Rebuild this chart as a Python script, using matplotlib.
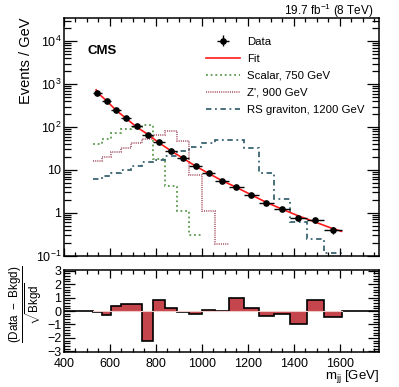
import numpy as np
import matplotlib
matplotlib.use("Agg")
import matplotlib.pyplot as plt
from matplotlib.ticker import FixedLocator, MultipleLocator, NullFormatter, LogLocator

plt.rcParams['font.family'] = ['Liberation Sans', 'DejaVu Sans']
plt.rcParams['mathtext.fontset'] = 'custom'
plt.rcParams['mathtext.rm'] = 'Liberation Sans'
plt.rcParams['mathtext.it'] = 'Liberation Sans:italic'

# bin edges of the dijet mass spectrum [GeV]
edges = [526, 565, 606, 649, 693, 740, 788, 838, 890, 944, 1000, 1058,
         1118, 1181, 1246, 1313, 1383, 1455, 1530, 1607]

# data, events / GeV
data = [628, 395, 251, 163, 104, 65, 44, 28.4, 18.7, 12.2, 8.3, 5.6,
        4.06, 2.67, 1.73, 1.21, 0.77, 0.67, 0.40]
data_err = [4.0, 3.1, 2.4, 1.9, 1.5, 1.16, 0.94, 0.74, 0.59, 0.47, 0.38, 0.31,
            0.25, 0.20, 0.16, 0.13, 0.10, 0.095, 0.072]

# fit curve
fit_m = [540, 545, 585, 627, 671, 716, 764, 813, 864, 917, 972, 1029, 1088,
         1149, 1213, 1279, 1348, 1419, 1492, 1568, 1607]
fit_y = [740, 640, 410, 245, 158, 100, 68, 43, 28.2, 18.8, 12.3, 8.3, 5.6,
         3.95, 2.65, 1.76, 1.22, 0.85, 0.61, 0.43, 0.37]

# signal shapes
scalar_edges = edges[:11]
scalar_vals = [40, 53, 71, 88, 102, 110, 18, 4.3, 1.1, 0.31]
zprime_edges = edges[:13]
zprime_vals = [16, 20, 26, 33, 42, 52, 66, 82, 47, 7.6, 1.1, 0.19]
rsg_edges = edges
rsg_vals = [6.0, 7.1, 8.5, 10.2, 12.2, 15, 17.5, 21.6, 27, 35, 43, 50, 50,
            32, 8.3, 2.1, 0.62, 0.24, 0.115]

# (Data - Bkgd)/sqrt(Bkgd)
resid = [-0.1, -0.3, 0.4, 0.5, 0.55, -2.2, 0.85, 0.2, -0.05, -0.2, 0.05, 0.0,
         0.95, 0.2, -0.35, -0.2, -1.0, 0.8, -0.45]

x_ticks = [400, 600, 800, 1000, 1200, 1400, 1600]

fig = plt.figure(figsize=(3.99, 3.87), dpi=100)
ax = fig.add_axes([0.1604, 0.3393, 0.7895, 0.6142])
axr = fig.add_axes([0.1604, 0.0904, 0.7895, 0.2119])

centers = [(a + b) / 2 for a, b in zip(edges[:-1], edges[1:])]
half_w = [(b - a) / 2 for a, b in zip(edges[:-1], edges[1:])]

ax.stairs(scalar_vals, scalar_edges, baseline=None, color='#5a9a4c',
          lw=1.3, ls=(0, (1, 1.6)), label='Scalar, 750 GeV')
ax.stairs(zprime_vals, zprime_edges, baseline=None, color='#b36a7a',
          lw=1.3, ls=(0, (0.6, 0.6)), label="Z', 900 GeV")
ax.stairs(rsg_vals, rsg_edges, baseline=None, color='#3b6473',
          lw=1.3, ls=(0, (3, 2, 1, 2)), label='RS graviton, 1200 GeV')
ax.plot(fit_m, fit_y, color='#ff1a1a', lw=1.2, label='Fit')
ax.errorbar(centers, data, xerr=half_w, yerr=data_err, fmt='o', color='black',
            ms=3.8, elinewidth=1.0, capsize=0, label='Data')

ax.set_yscale('log')
ax.set_xlim(400, 1770)
ax.set_ylim(0.1, 3.5e4)
ax.yaxis.set_major_locator(FixedLocator([0.1, 1, 10, 100, 1000, 10000]))
ax.set_yticklabels([r'$10^{-1}$', '1', '10', r'$10^{2}$', r'$10^{3}$', r'$10^{4}$'])
ax.yaxis.set_minor_locator(LogLocator(base=10, subs=np.arange(2, 10), numticks=20))
ax.yaxis.set_minor_formatter(NullFormatter())
ax.xaxis.set_major_locator(FixedLocator(x_ticks))
ax.xaxis.set_minor_locator(MultipleLocator(50))
ax.set_xticklabels([])
ax.set_ylabel('Events / GeV', fontsize=10.5, loc='top', labelpad=2)

handles, labels = ax.get_legend_handles_labels()
order = [4, 3, 0, 1, 2]
ax.legend([handles[i] for i in order], [labels[i] for i in order],
          loc='upper left', bbox_to_anchor=(0.425, 0.955), frameon=False,
          fontsize=8.2, handlelength=3.0, handletextpad=0.6, labelspacing=0.62,
          borderpad=0.2)

ax.text(0.075, 0.86, 'CMS', transform=ax.transAxes, fontsize=9.5,
        fontweight='bold', ha='left', va='center')
fig.text(0.935, 0.972, r'19.7 fb$^{-1}$ (8 TeV)', fontsize=8.5,
         ha='right', va='center')

# ratio panel
axr.stairs(resid, edges, baseline=0, fill=True, color='#c4454c', lw=0)
axr.plot([edges[0], edges[-1]], [0, 0], color='#f2c8c8', lw=0.8)
outline = [0] + resid + [0]
axr.stairs(outline, [400] + edges + [1770], baseline=None, color='black', lw=1.2)
axr.set_xlim(400, 1770)
axr.set_ylim(-3.05, 3.05)
axr.yaxis.set_major_locator(MultipleLocator(1))
axr.yaxis.set_minor_locator(MultipleLocator(0.2))
axr.xaxis.set_major_locator(FixedLocator(x_ticks))
axr.xaxis.set_minor_locator(MultipleLocator(50))
axr.set_xlabel(r'm$_{\mathrm{jj}}$ [GeV]', fontsize=9.5, loc='right')
axr.xaxis.set_label_coords(1.0, -0.2)
axr.set_ylabel(r'$\frac{\mathrm{(Data\ -\ Bkgd)}}{\sqrt{\mathrm{Bkgd}}}$',
               fontsize=12)
axr.yaxis.set_label_coords(-0.06, 0.58)

for a in (ax, axr):
    for s in a.spines.values():
        s.set_linewidth(1.1)
    a.tick_params(which='both', direction='in', top=True, right=True,
                  labelsize=9, width=0.9, pad=2)
    a.tick_params(which='major', length=6)
    a.tick_params(which='minor', length=3)
ax.tick_params(axis='y', which='major', length=9)
ax.tick_params(axis='y', which='minor', length=5)
axr.tick_params(axis='y', which='major', length=8)
axr.tick_params(axis='y', which='minor', length=4)
axr.tick_params(axis='x', which='major', pad=4)

fig.savefig('out.png', dpi=100)
